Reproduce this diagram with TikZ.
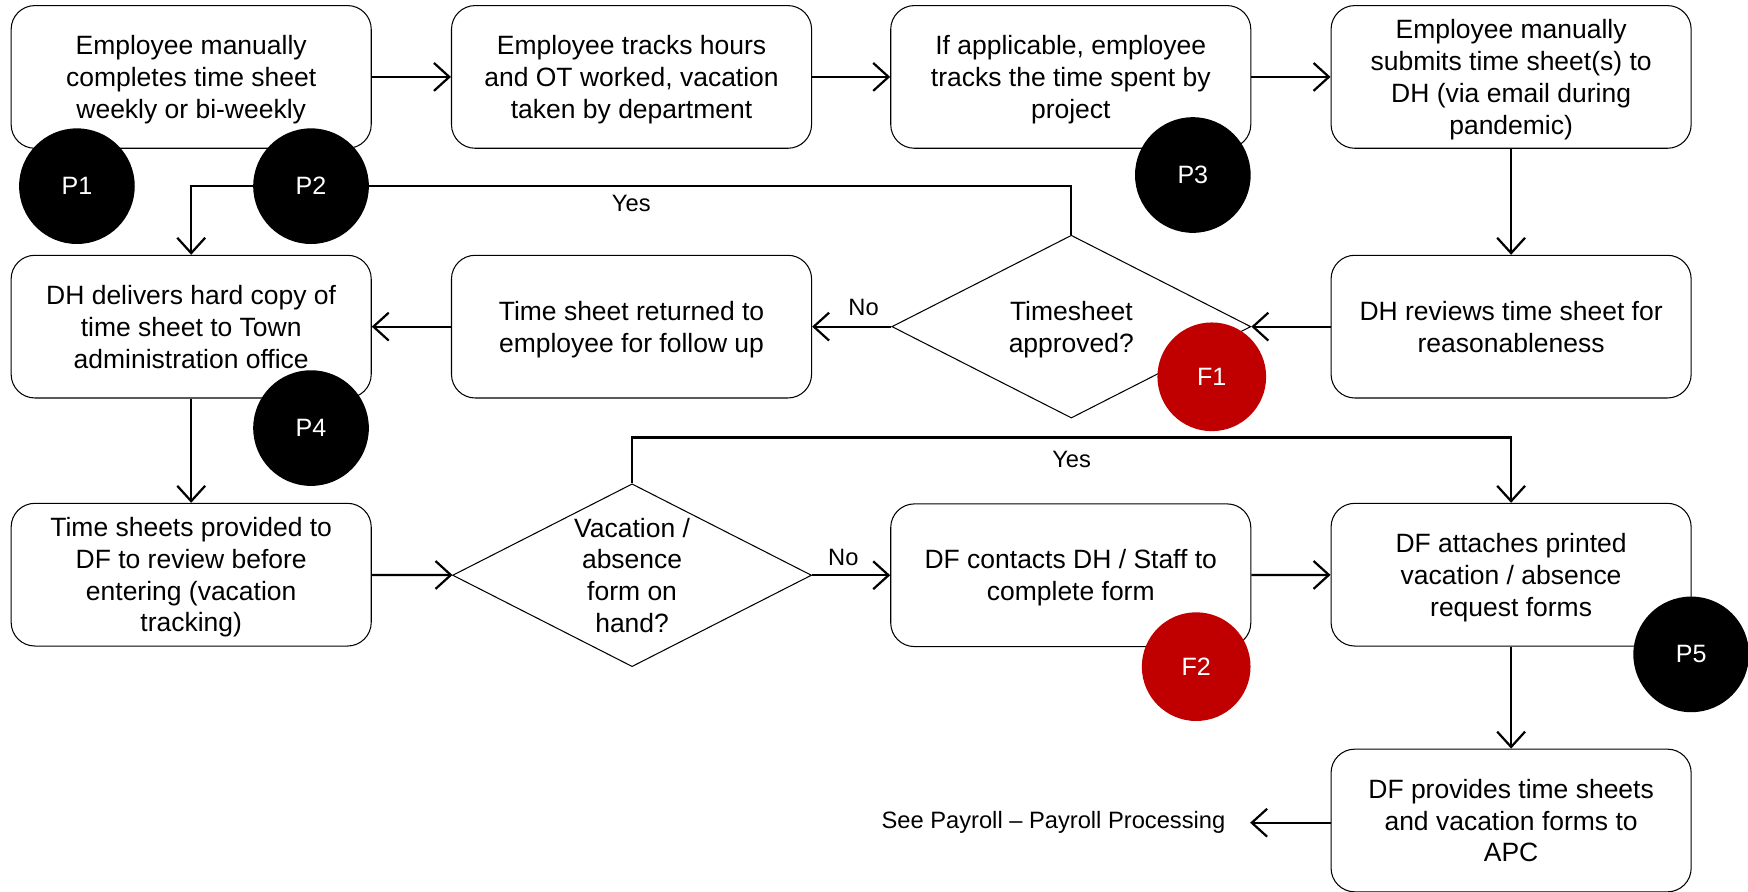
\documentclass[tikz,border=0pt]{standalone}
\usepackage{fontspec}
\setmainfont{Liberation Sans}
\usetikzlibrary{shapes.geometric,arrows.meta,calc}
\definecolor{fred}{HTML}{C00000}
\begin{document}
\begin{tikzpicture}[x=0.8pt,y=-0.8pt,
  box/.style={draw=black,line width=0.75pt,rounded corners=17pt,minimum width=258.4pt,minimum height=102.4pt,align=center,font=\fontsize{19}{22.8}\selectfont,inner sep=2pt,text depth=0pt},
  dia/.style={draw=black,line width=0.75pt,shape=diamond,minimum width=257.6pt,minimum height=131.2pt,inner sep=0pt},
  dtxt/.style={align=center,font=\fontsize{19}{22.8}\selectfont,text depth=0pt},
  arr/.style={line width=1.6pt,-{Straight Barb[length=11pt,width=20pt]}},
  lbl/.style={font=\fontsize{17}{20}\selectfont,inner sep=3pt},
  pc/.style={circle,fill=black,minimum size=83pt,inner sep=0pt,text=white,font=\fontsize{18}{20}\selectfont},
  fc/.style={pc,fill=fred,minimum size=78pt},
]
\useasboundingbox (0,0) rectangle (1568,800);
% row 1
\node[box] (b1) at (171.5,69) {Employee manually\\completes time sheet\\weekly or bi-weekly};
\node[box] (b2) at (566.5,69) {Employee tracks hours\\and OT worked, vacation\\taken by department};
\node[box] (b3) at (960.5,69) {If applicable, employee\\tracks the time spent by\\project};
\node[box] (b4) at (1355.5,69) {Employee manually\\submits time sheet(s) to\\DH (via email during\\pandemic)};
% row 2
\node[box] (b5) at (171.5,293) {DH delivers hard copy of\\time sheet to Town\\administration office};
\node[box] (b6) at (566.5,293) {Time sheet returned to\\employee for follow up};
\node[dia] (d1) at (961,293) {};
\node[dtxt] (d1t) at (d1.center) {Timesheet\\approved?};
\node[box] (b7) at (1355.5,293) {DH reviews time sheet for\\reasonableness};
% row 3
\node[box] (b8) at (171.5,515.5) {Time sheets provided to\\DF to review before\\entering (vacation\\tracking)};
\node[dia] (d2) at (567,516) {};
\node[dtxt] (d2t) at (d2.center) {Vacation /\\absence\\form on\\hand?};
\node[box] (b9) at (960.5,516) {DF contacts DH / Staff to\\complete form};
\node[box] (b10) at (1355.5,515.5) {DF attaches printed\\vacation / absence\\request forms};
% row 4
\node[box] (b11) at (1355.5,736) {DF provides time sheets\\and vacation forms to\\APC};
\node[lbl,inner sep=0pt] (see) at (945,738) {See Payroll – Payroll Processing};
\coordinate (seeend) at ($(see.east)+(22,0)$);
% connectors
\draw[arr] (b1.east) -- (b2.west);
\draw[arr] (b2) -- (b3);
\draw[arr] (b3) -- (b4);
\draw[arr] (b4) -- (b7);
\draw[arr] (b7) -- (d1);
\draw[arr] (d1) -- node[lbl,above,pos=0.35,yshift=4pt]{No} (b6);
\draw[arr] (b6) -- (b5);
\draw[arr] (d1.north) -- ++(0,-44) -| node[lbl,pos=0.25,below,yshift=-3pt]{Yes} (b5.north);
\draw[arr] (b5) -- (b8);
\draw[arr] (b8) -- (d2);
\draw[arr] (d2) -- node[lbl,above,pos=0.4,yshift=3pt]{No} (b9);
\draw[arr] (d2.north) -- ++(0,-41) -| node[lbl,pos=0.25,below,yshift=-6pt]{Yes} (b10.north);
\draw[arr] (b9) -- (b10);
\draw[arr] (b10) -- (b11);
\draw[arr] (b11.west |- see.east) -- (seeend);
% markers
\node[pc] (p1) at (69,167) {P1};
\node[pc] (p2) at (279,167) {P2};
\node[pc] (p3) at (1070,157) {P3};
\node[pc] (p4) at (279,384) {P4};
\node[fc] (f1) at (1087,338) {F1};
\node[fc] (f2) at (1073,598) {F2};
\node[pc] (p5) at (1517,587) {P5};
\end{tikzpicture}
\end{document}
